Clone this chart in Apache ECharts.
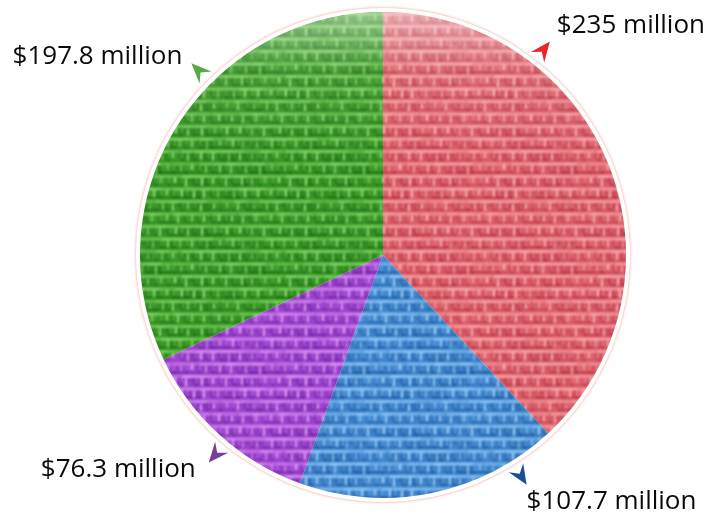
<!DOCTYPE html>
<html>
<head>
<meta charset="utf-8">
<script src="https://cdn.jsdelivr.net/npm/echarts@6/dist/echarts.min.js"></script>
<style>
html,body{margin:0;padding:0;background:#fff;}
#chart{width:713px;height:516px;}
</style>
</head>
<body>
<div id="chart"></div>
<script>
// ---- data ----
const categories = ['Red', 'Blue', 'Purple', 'Green'];
const values = [235, 107.7, 76.3, 197.8];
const labelTexts = ['$235 million', '$107.7 million', '$76.3 million', '$197.8 million'];

// ---- style / layout ----
const palettes = [
  {base: '#e8737a', dark: '#b02f3f', light: '#ffb8bd'},
  {base: '#529ade', dark: '#1a559c', light: '#aad8fd'},
  {base: '#b055df', dark: '#6c1e9e', light: '#e6aafc'},
  {base: '#46a830', dark: '#186810', light: '#9ae27c'}
];
const arrowColors = ['#e8252b', '#1c4f91', '#7a3d98', '#5aa844'];
const CX = 383, CY = 255, R = 243;
const arrowAngles = [52, -58, -130, 135];
const arrowTipR = 271;
const labelDx = [7, 0, -13, -9];
const labelDy = [-16, 17, 7, -7];
const labelAlign = ['left', 'left', 'right', 'right'];

function hash(i, j, k) {
  const s = Math.sin(i * 127.1 + j * 311.7 + k * 74.7) * 43758.5453;
  return s - Math.floor(s);
}

function makeTexture(p) {
  const cw = 13, ch = 12.5, nx = 8, ny = 8;
  const W = cw * nx, H = ch * ny;
  const big = document.createElement('canvas');
  big.width = W * 3; big.height = H * 3;
  const g = big.getContext('2d');
  g.fillStyle = p.base;
  g.fillRect(0, 0, big.width, big.height);
  for (let ty = 0; ty < 3; ty++) for (let tx = 0; tx < 3; tx++) {
    for (let j = 0; j < ny; j++) for (let i = 0; i < nx; i++) {
      const x0 = tx * W + i * cw + (j % 2) * 5, y0 = ty * H + j * ch;
      const h1 = hash(i, j, 1), h2 = hash(i, j, 2), h3 = hash(i, j, 3), h4 = hash(i, j, 4);
      g.globalAlpha = 0.15 + 0.4 * h4;
      g.fillStyle = p.dark;
      g.fillRect(x0 + 1, y0 + 3, 8 + 4 * h3, 5);
      g.globalAlpha = 0.35 + 0.45 * h1;
      g.fillRect(x0 - 1, y0 + 8.5, cw + 2, 3);
      g.globalAlpha = 0.25 + 0.35 * h2;
      g.fillRect(x0 + 9 + h4 * 2, y0 + 1, 2.5, 8);
      g.globalAlpha = 0.3 + 0.45 * h3;
      g.fillStyle = p.light;
      g.fillRect(x0, y0 + 0.5, cw, 2.5);
      g.globalAlpha = 0.5 + 0.5 * h2;
      g.fillRect(x0 + 3 + Math.round(h1 * 4), y0 + 2 + h4 * 2, 2, 5 + h3 * 3);
    }
  }
  g.globalAlpha = 1;
  const blurred = document.createElement('canvas');
  blurred.width = big.width; blurred.height = big.height;
  const b = blurred.getContext('2d');
  b.filter = 'blur(1.2px)';
  b.drawImage(big, 0, 0);
  const out = document.createElement('canvas');
  out.width = W; out.height = H;
  out.getContext('2d').drawImage(blurred, W, H, W, H, 0, 0, W, H);
  return out;
}

const textures = palettes.map(makeTexture);

function polar(angDeg, r) {
  const a = angDeg * Math.PI / 180;
  return [CX + r * Math.cos(a), CY - r * Math.sin(a)];
}

function arrowPoints(angDeg) {
  const a = angDeg * Math.PI / 180;
  const ux = Math.cos(a), uy = -Math.sin(a);
  const px = -uy, py = ux;
  const tip = polar(angDeg, arrowTipR);
  const loc = [[0, 0], [-20, 8.5], [-13, 0], [-20, -8.5]];
  return loc.map(([u, v]) => [tip[0] + u * ux + v * px, tip[1] + u * uy + v * py]);
}

const chart = echarts.init(document.getElementById('chart'));

const option = {
  animation: false,
  backgroundColor: '#ffffff',
  series: [
    {
      type: 'pie',
      silent: true,
      center: [CX, CY],
      radius: R + 4,
      z: 1,
      label: {show: false},
      labelLine: {show: false},
      itemStyle: {
        color: '#ffffff',
        shadowBlur: 3,
        shadowColor: 'rgba(225,120,95,0.75)'
      },
      data: [1]
    },
    {
      type: 'pie',
      center: [CX, CY],
      radius: R,
      startAngle: 90,
      clockwise: true,
      z: 2,
      avoidLabelOverlap: false,
      itemStyle: {borderWidth: 0},
      label: {
        show: true,
        position: 'outside',
        fontFamily: 'Open Sans',
        fontSize: 26,
        color: '#0a0a0a',
        formatter: p => labelTexts[p.dataIndex]
      },
      labelLine: {show: false},
      labelLayout: function (params) {
        const i = params.dataIndex;
        const tip = polar(arrowAngles[i], arrowTipR);
        return {
          x: tip[0] + labelDx[i],
          y: tip[1] + labelDy[i],
          align: labelAlign[i],
          verticalAlign: 'middle'
        };
      },
      data: categories.map((c, i) => ({
        name: c,
        value: values[i],
        itemStyle: {color: {image: textures[i], repeat: 'repeat'}}
      }))
    },
    {
      type: 'pie',
      silent: true,
      center: [CX, CY],
      radius: R,
      z: 3,
      label: {show: false},
      labelLine: {show: false},
      itemStyle: {
        color: {
          type: 'linear', x: 0, y: 0, x2: 0, y2: 1,
          colorStops: [
            {offset: 0, color: 'rgba(255,255,255,0.45)'},
            {offset: 0.12, color: 'rgba(255,255,255,0.08)'},
            {offset: 0.3, color: 'rgba(255,255,255,0)'},
            {offset: 1, color: 'rgba(255,255,255,0)'}
          ]
        }
      },
      data: [1]
    }
  ],
  graphic: arrowAngles.map((ang, i) => ({
    type: 'polygon',
    z: 10,
    shape: {points: arrowPoints(ang)},
    style: {fill: arrowColors[i]}
  }))
};

chart.setOption(option);
</script>
</body>
</html>
